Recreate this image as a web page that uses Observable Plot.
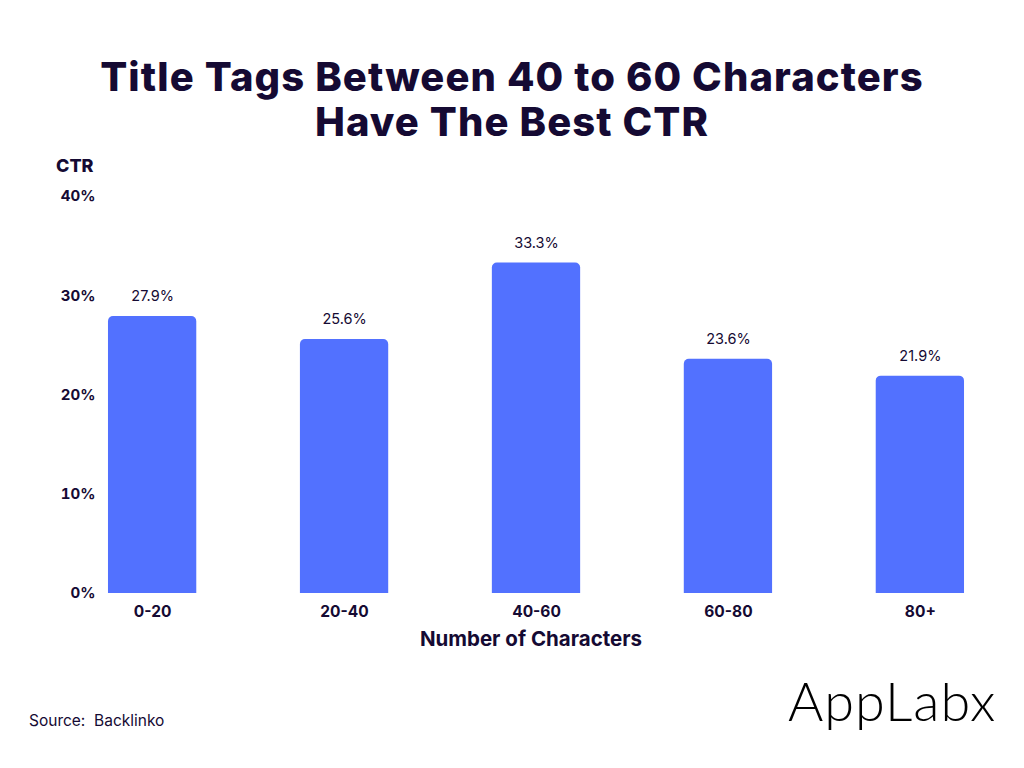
<!DOCTYPE html>
<html>
<head>
<meta charset="utf-8">
<script src="https://cdn.jsdelivr.net/npm/d3@7"></script>
<script src="https://cdn.jsdelivr.net/npm/@observablehq/plot@0.6"></script>
<style>
  html, body { margin: 0; padding: 0; background: #fff; }
  body { width: 1024px; height: 768px; position: relative; overflow: hidden; font-family: Inter, "Open Sans", sans-serif; color: #150A33; }
  .abs { position: absolute; }
  .title { left: 0; width: 1024px; text-align: center; font-size: 40px; font-weight: 800; line-height: 42px; letter-spacing: 1.1px; white-space: nowrap; }
  #title1 { top: 56px; }
  #title2 { top: 101px; }
  #ctr { left: 56px; top: 155px; font-size: 18px; font-weight: 800; }
  #xlabel { left: 0; width: 1062px; top: 626px; text-align: center; font-size: 20.5px; font-weight: 700; }
  #source { left: 29px; top: 711px; font-size: 15.5px; font-weight: 400; }
  #logo { left: 788px; top: 668px; font-size: 54px; font-family: Lato, sans-serif; font-weight: 300; color: #000; letter-spacing: 1px; }
  #chart { left: 0; top: 0; }
</style>
</head>
<body>
<div id="chart" class="abs"></div>
<div id="title1" class="abs title">Title Tags Between 40 to 60 Characters</div>
<div id="title2" class="abs title">Have The Best CTR</div>
<div id="ctr" class="abs">CTR</div>
<div id="xlabel" class="abs">Number of Characters</div>
<div id="source" class="abs">Source:&nbsp; Backlinko</div>
<div id="logo" class="abs">AppLabx</div>
<script>
const categories = ["0-20", "20-40", "40-60", "60-80", "80+"];
const ctrValues = [27.9, 25.6, 33.3, 23.6, 21.9];
const yTicks = [0, 10, 20, 30, 40];

const data = categories.map((c, i) => ({category: c, value: ctrValues[i]}));

const plot = Plot.plot({
  width: 1024,
  height: 768,
  marginTop: 196,
  marginBottom: 175,
  marginLeft: 60,
  marginRight: 12,
  style: {fontFamily: "Inter, 'Open Sans', sans-serif", color: "#150A33", background: "transparent"},
  x: {domain: categories, paddingInner: 0.54, paddingOuter: 0.25, round: false, label: null},
  y: {domain: [0, 40], label: null},
  marks: [
    Plot.barY(data, {x: "category", y: "value", fill: "#5271FF", ry1: 5}),
    Plot.text(data, {x: "category", y: "value", text: d => d.value.toFixed(1) + "%", dy: -20, fontSize: 14.5, fill: "#150A33"}),
    Plot.axisY({ticks: yTicks, tickSize: 0, tickPadding: 0, dx: 35, textAnchor: "end", tickFormat: d => d + "%", fontSize: 15, fontWeight: 700, fill: "#150A33"}),
    Plot.axisX({tickSize: 0, tickPadding: 12, fontSize: 15.5, fontWeight: 700, fill: "#150A33", label: null})
  ]
});
document.getElementById("chart").appendChild(plot);
</script>
</body>
</html>
